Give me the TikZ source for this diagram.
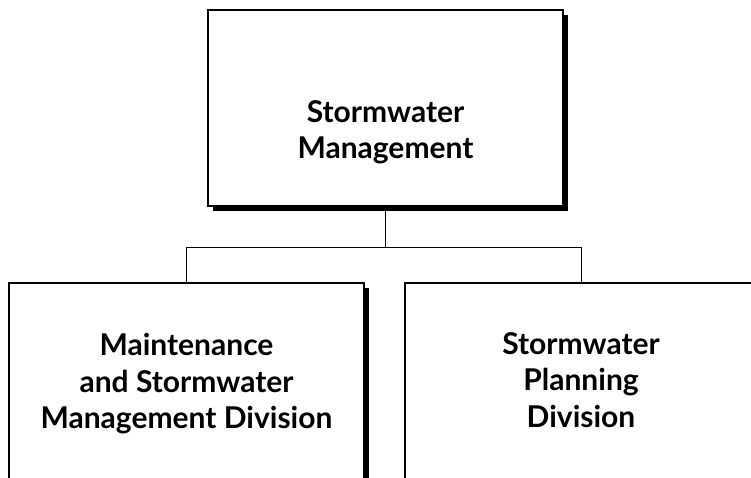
\documentclass[tikz,border=0pt]{standalone}
\usepackage{fontspec}
\setmainfont{Lato}
\usetikzlibrary{shadows}
\tikzset{
  orgbox/.style={draw=black, line width=1.5pt, fill=white, rectangle, inner sep=0pt,
    drop shadow={shadow xshift=5pt, shadow yshift=-5pt, fill=black, opacity=1}},
  orgtext/.style={align=center, font=\fontsize{30}{36.5}\selectfont\bfseries, inner sep=0pt},
  conn/.style={draw=black, line width=1pt}
}
\begin{document}
\begin{tikzpicture}[x=1pt,y=-1pt]
\useasboundingbox (0,0) rectangle (751,477);
\clip (0,0) rectangle (751,477);
\node[orgbox, minimum width=355pt, minimum height=196pt] (top) at (385.5,108) {};
\node[orgbox, minimum width=355pt, minimum height=260pt] (left) at (186.5,413) {};
\node[orgbox, minimum width=352pt, minimum height=260pt] (right) at (581,413) {};
\node[orgtext] (toptext) at (385.5,132) {Stormwater\\Management};
\node[orgtext] (lefttext) at (186.5,384) {Maintenance\\and Stormwater\\Management Division};
\node[orgtext] (righttext) at (581,380) {Stormwater\\Planning\\Division};
\coordinate (mid) at ([yshift=-41pt]top.south);
\draw[conn] (top.south) -- (mid);
\draw[conn] (mid) -| (left.north);
\draw[conn] (mid) -| (right.north);
\end{tikzpicture}
\end{document}
